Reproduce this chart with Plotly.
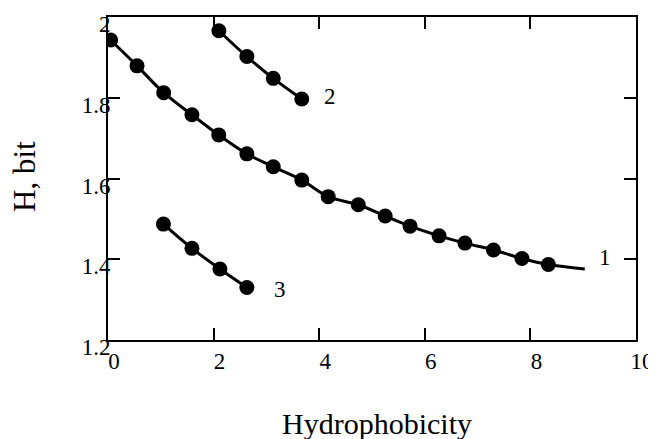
import plotly.graph_objects as go

# Series 1
s1_x = [0.05, 0.55, 1.055, 1.59, 2.097, 2.63, 3.13, 3.67, 4.17, 4.74, 5.25, 5.72, 6.27, 6.76, 7.30, 7.84, 8.34]
s1_y = [1.943, 1.879, 1.8125, 1.758, 1.708, 1.661, 1.629, 1.596, 1.555, 1.535, 1.507, 1.482, 1.458, 1.440, 1.423, 1.402, 1.387]
# fitted line for series 1 (extends beyond last point)
fit1_x = s1_x + [9.03]
fit1_y = s1_y + [1.376]

# Series 2
s2_x = [2.10, 2.63, 3.13, 3.67]
s2_y = [1.966, 1.902, 1.848, 1.797]

# Series 3
s3_x = [1.05, 1.59, 2.12, 2.63]
s3_y = [1.487, 1.427, 1.376, 1.330]

x_ticks = [0, 2, 4, 6, 8, 10]
x_tick_text = ["0", "2", "4", "6", "8", "10"]
y_ticks = [1.2, 1.4, 1.6, 1.8, 2.0]
y_tick_text = ["1.2", "1.4", "1.6", "1.8", "2"]

curve_labels = [("1", 9.41, 1.404), ("2", 4.2, 1.803), ("3", 3.26, 1.324)]

FONT = "Liberation Serif"

# the page body has an 8px margin, so the figure is sized to end at the window edge
W, H = 648, 431
ML, MR, MT, MB = 100, 20, 9, 99
PW = W - ML - MR
PH = H - MT - MB

fig = go.Figure()
line_style = dict(color="black", width=3, shape="spline")
marker_style = dict(color="black", size=15)

fig.add_trace(go.Scatter(x=fit1_x, y=fit1_y, mode="lines", line=line_style, showlegend=False))
fig.add_trace(go.Scatter(x=s1_x, y=s1_y, mode="markers", marker=marker_style, showlegend=False))
fig.add_trace(go.Scatter(x=s2_x, y=s2_y, mode="lines+markers", line=line_style, marker=marker_style, showlegend=False))
fig.add_trace(go.Scatter(x=s3_x, y=s3_y, mode="lines+markers", line=line_style, marker=marker_style, showlegend=False))

annotations = []
for txt, ax, ay in curve_labels:
    annotations.append(dict(text=txt, x=ax, y=ay, xref="x", yref="y", showarrow=False,
                            font=dict(family=FONT, size=23, color="black")))

annotations.append(dict(text="Hydrophobicity", xref="paper", yref="paper",
                        x=0.5095, y=-83 / PH, showarrow=False,
                        xanchor="center", yanchor="middle",
                        font=dict(family=FONT, size=30, color="black")))
annotations.append(dict(text="H, bit", xref="paper", yref="paper",
                        x=-(ML - 17) / PW, y=0.505, showarrow=False, textangle=-90,
                        xanchor="center", yanchor="middle",
                        font=dict(family=FONT, size=31, color="black")))

axis_common = dict(showgrid=False, zeroline=False, showline=True, linecolor="black", linewidth=2,
                   mirror="allticks", ticks="inside", ticklen=12, tickwidth=2, tickcolor="black",
                   automargin=False,
                   tickfont=dict(family=FONT, size=23, color="black"))

fig.update_xaxes(range=[0, 10], tickmode="array", tickvals=x_ticks, ticktext=x_tick_text,
                 ticklabelshift=6, ticklabelstandoff=-1, **axis_common)
fig.update_yaxes(range=[1.2, 2.0], tickmode="array", tickvals=y_ticks, ticktext=y_tick_text,
                 ticklabelshift=7, ticklabelstandoff=-9, **axis_common)

fig.update_layout(width=W, height=H, margin=dict(l=ML, r=MR, t=MT, b=MB),
                  paper_bgcolor="white", plot_bgcolor="white", annotations=annotations)

fig.write_html("out.html")
